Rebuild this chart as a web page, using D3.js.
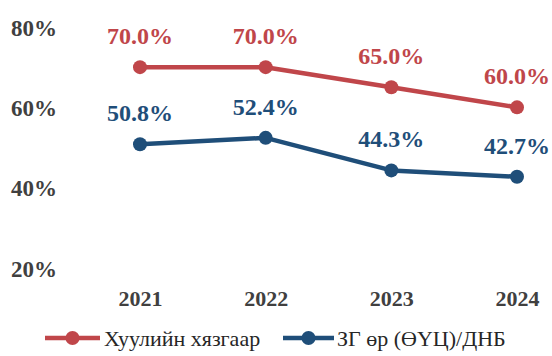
<!DOCTYPE html>
<html>
<head>
<meta charset="utf-8">
<script src="https://cdn.jsdelivr.net/npm/d3@7"></script>
<style>
  html, body { margin: 0; padding: 0; background: #ffffff; }
  svg { display: block; }
</style>
</head>
<body>
<svg id="chart" width="552" height="356"></svg>
<script>
// Years on the horizontal axis
const years = ["2021", "2022", "2023", "2024"];
// Legal debt ceiling, % of GDP
const limitValues = [70.0, 70.0, 65.0, 60.0];
// Government debt (net present value) to GDP, %
const debtValues = [50.8, 52.4, 44.3, 42.7];
// Y-axis ticks
const yTicks = [20, 40, 60, 80];

const seriesNames = ["Хуулийн хязгаар", "ЗГ өр (ӨҮЦ)/ДНБ"];
const seriesColors = ["#c0464a", "#1f4e79"];
const FONT = "'Liberation Serif', 'Times New Roman', serif";

const svg = d3.select("#chart").style("font-family", FONT);

const x = d3.scalePoint().domain(years).range([140, 517]);
const y = d3.scaleLinear().domain([20, 80]).range([268, 27]);

// Y axis labels (no axis line, no gridlines)
const yAxis = d3.axisLeft(y).tickValues(yTicks).tickSize(0).tickPadding(0)
  .tickFormat(d => d + "%");
svg.append("g")
  .attr("transform", "translate(57,0)")
  .call(yAxis)
  .call(g => g.select(".domain").remove())
  .selectAll("text")
  .style("font-family", FONT)
  .style("font-size", "23px")
  .style("font-weight", "bold")
  .attr("fill", "#404040")
  .attr("dy", "0.35em");

// X axis labels
const xAxis = d3.axisBottom(x).tickSize(0).tickPadding(0);
svg.append("g")
  .attr("transform", "translate(0,298)")
  .call(xAxis)
  .call(g => g.select(".domain").remove())
  .selectAll("text")
  .style("font-family", FONT)
  .style("font-size", "22px")
  .style("font-weight", "bold")
  .attr("fill", "#404040")
  .attr("dy", "0.35em");

const series = [limitValues, debtValues];
const line = d3.line().x((d, i) => x(years[i])).y(d => y(d));

series.forEach((vals, s) => {
  const g = svg.append("g");
  g.append("path")
    .datum(vals)
    .attr("d", line)
    .attr("fill", "none")
    .attr("stroke", seriesColors[s])
    .attr("stroke-width", 4.5)
    .attr("stroke-linejoin", "round");
  g.selectAll("circle")
    .data(vals)
    .join("circle")
    .attr("cx", (d, i) => x(years[i]))
    .attr("cy", d => y(d))
    .attr("r", 7)
    .attr("fill", seriesColors[s]);
  g.selectAll("text")
    .data(vals)
    .join("text")
    .attr("x", (d, i) => x(years[i]))
    .attr("y", d => y(d) - 23)
    .attr("text-anchor", "middle")
    .style("font-family", FONT)
    .style("font-size", "24px")
    .style("font-weight", "bold")
    .attr("fill", seriesColors[s])
    .text(d => d.toFixed(1) + "%");
});

// Legend
const legendItems = [
  { x0: 45, x1: 100, tx: 104 },
  { x0: 283, x1: 334, tx: 337 }
];
legendItems.forEach((it, s) => {
  const g = svg.append("g");
  g.append("line")
    .attr("x1", it.x0).attr("x2", it.x1)
    .attr("y1", 338).attr("y2", 338)
    .attr("stroke", seriesColors[s])
    .attr("stroke-width", 4.5);
  g.append("circle")
    .attr("cx", (it.x0 + it.x1) / 2)
    .attr("cy", 338)
    .attr("r", 7)
    .attr("fill", seriesColors[s]);
  g.append("text")
    .attr("x", it.tx)
    .attr("y", 338)
    .attr("dy", "0.35em")
    .style("font-family", FONT)
    .style("font-size", "22px")
    .attr("fill", "#262626")
    .text(seriesNames[s]);
});
</script>
</body>
</html>
